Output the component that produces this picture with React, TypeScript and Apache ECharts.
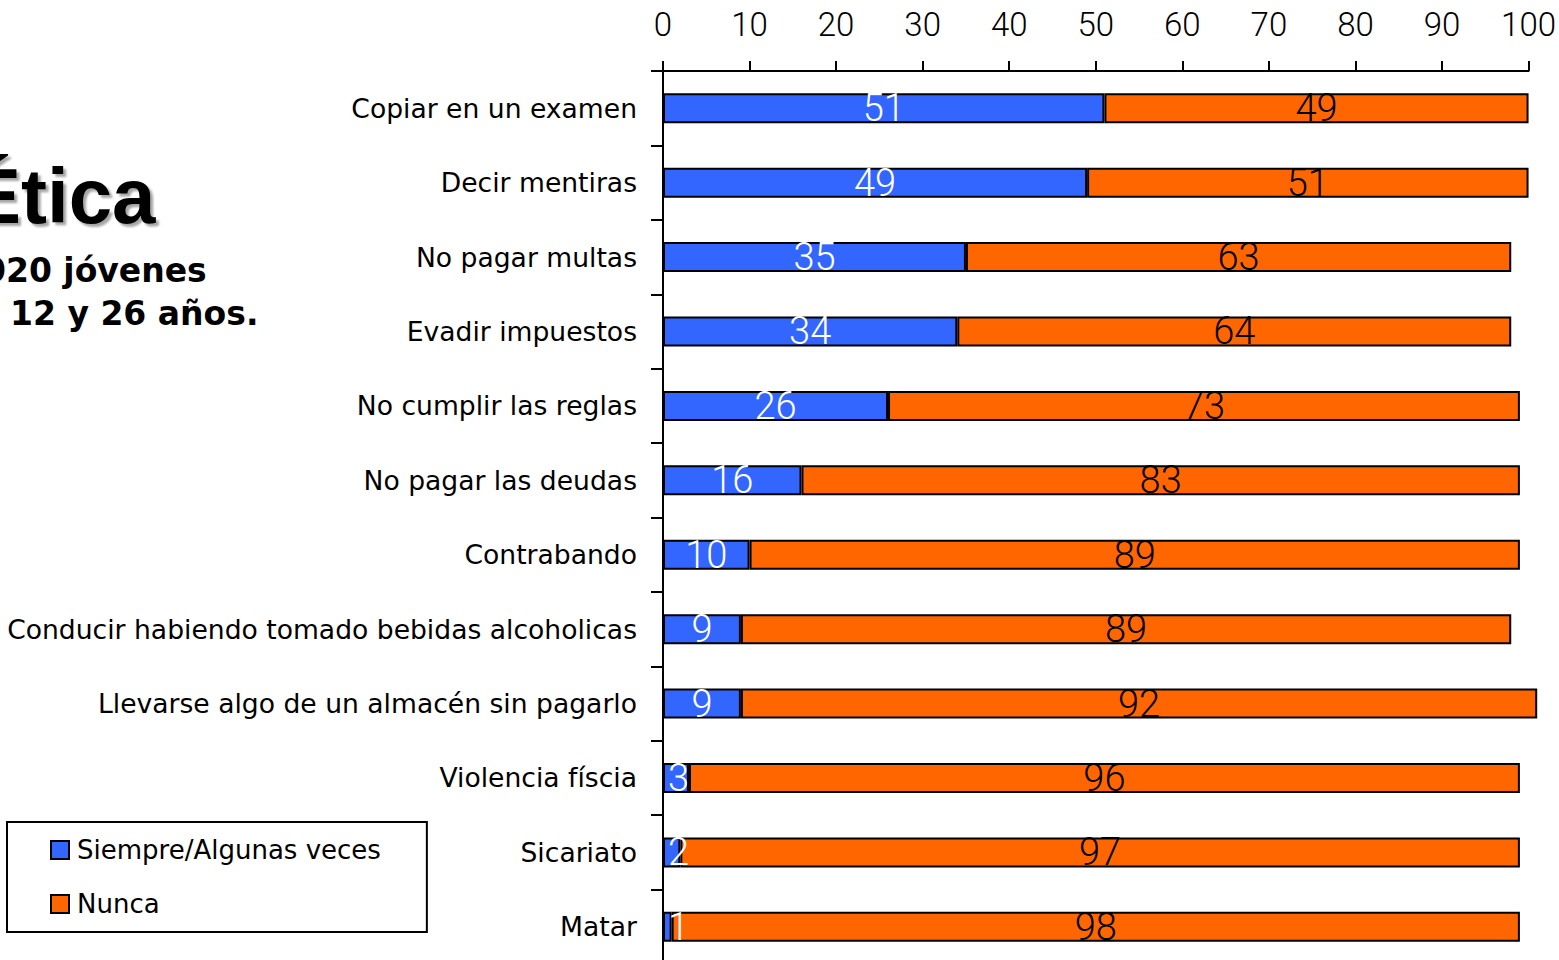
import React, { useEffect, useRef } from "react";
import * as echarts from "echarts";

const categories = [
  "Copiar en un examen",
  "Decir mentiras",
  "No pagar multas",
  "Evadir impuestos",
  "No cumplir las reglas",
  "No pagar las deudas",
  "Contrabando",
  "Conducir habiendo tomado bebidas alcoholicas",
  "Llevarse algo de un almacén sin pagarlo",
  "Violencia físcia",
  "Sicariato",
  "Matar",
];
const siempre = [51, 49, 35, 34, 26, 16, 10, 9, 9, 3, 2, 1];
const nunca = [49, 51, 63, 64, 73, 83, 89, 89, 92, 96, 97, 98];
const seriesNames = ["Siempre/Algunas veces", "Nunca"];
const titleText = "Ética";
const subtitleLine1 = "020 jóvenes";
const subtitleLine2 = "12 y 26 años.";

const BLUE = "#3366FF";
const ORANGE = "#FF6600";

export default function App() {
  const ref = useRef<HTMLDivElement>(null);

  useEffect(() => {
    if (!ref.current) return;
    const chart = echarts.init(ref.current, undefined, { renderer: "svg" });

    const labelBase = {
      show: true,
      fontFamily: "Roboto",
      fontWeight: 300,
      fontSize: 38,
      padding: [8, 0, 0, 0],
    };

    chart.setOption({
      animation: false,
      backgroundColor: "#ffffff",
      grid: { left: 663, top: 71, width: 868, height: 893 },
      legend: {
        orient: "vertical",
        left: 7,
        top: 822,
        padding: [13, 46, 13, 43],
        itemGap: 24,
        itemWidth: 18,
        itemHeight: 18,
        icon: "rect",
        borderColor: "#000",
        borderWidth: 2,
        textStyle: {
          fontFamily: "DejaVu Sans",
          fontSize: 26,
          color: "#000",
          lineHeight: 30,
          padding: [0, 0, 0, 3],
        },
        data: seriesNames,
      },
      xAxis: {
        type: "value",
        position: "top",
        min: 0,
        max: 100,
        interval: 10,
        axisLine: { show: true, lineStyle: { color: "#000", width: 2 } },
        axisTick: { show: true, length: 10, lineStyle: { color: "#000", width: 2 } },
        axisLabel: {
          fontFamily: "Roboto",
          fontWeight: 300,
          fontSize: 33,
          color: "#000",
          margin: 30,
        },
        splitLine: { show: false },
      },
      yAxis: {
        type: "category",
        data: categories,
        inverse: true,
        axisLine: { show: true, lineStyle: { color: "#000", width: 2 } },
        axisTick: { show: true, length: 12, lineStyle: { color: "#000", width: 2 } },
        axisLabel: {
          fontFamily: "DejaVu Sans",
          fontSize: 26.6,
          color: "#000",
          margin: 26,
          padding: [5, 0, 0, 0],
        },
      },
      series: [
        {
          name: seriesNames[0],
          type: "bar",
          stack: "total",
          barWidth: 30,
          clip: false,
          itemStyle: { color: BLUE, borderColor: "#000", borderWidth: 2 },
          label: { ...labelBase, color: "#fff", position: "inside" },
          data: siempre.map((v) =>
            v < 5
              ? { value: v, label: { position: "insideLeft", distance: 5 } }
              : v
          ),
        },
        {
          name: seriesNames[1],
          type: "bar",
          stack: "total",
          barWidth: 30,
          clip: false,
          itemStyle: { color: ORANGE, borderColor: "#000", borderWidth: 2 },
          label: { ...labelBase, color: "#000", position: "inside" },
          data: nunca,
        },
      ],
      graphic: [
        {
          type: "text",
          x: -31,
          y: 196,
          style: {
            text: titleText,
            font: "bold 78px 'Liberation Sans'",
            fill: "#000",
            verticalAlign: "middle",
            textShadowColor: "rgba(0,0,0,0.35)",
            textShadowOffsetX: 3,
            textShadowOffsetY: 3,
            textShadowBlur: 2,
          },
        },
        {
          type: "text",
          x: -17,
          y: 270,
          style: {
            text: subtitleLine1,
            font: "bold 33px 'DejaVu Sans'",
            fill: "#000",
            verticalAlign: "middle",
          },
        },
        {
          type: "text",
          x: 10,
          y: 313,
          style: {
            text: subtitleLine2,
            font: "bold 33px 'DejaVu Sans'",
            fill: "#000",
            verticalAlign: "middle",
          },
        },
      ],
    });

    return () => chart.dispose();
  }, []);

  return (
    <div
      style={{
        position: "absolute",
        left: 0,
        top: 0,
        width: 1559,
        height: 960,
        overflow: "hidden",
        background: "#fff",
      }}
    >
      <div ref={ref} style={{ width: 1559, height: 970 }} />
    </div>
  );
}
